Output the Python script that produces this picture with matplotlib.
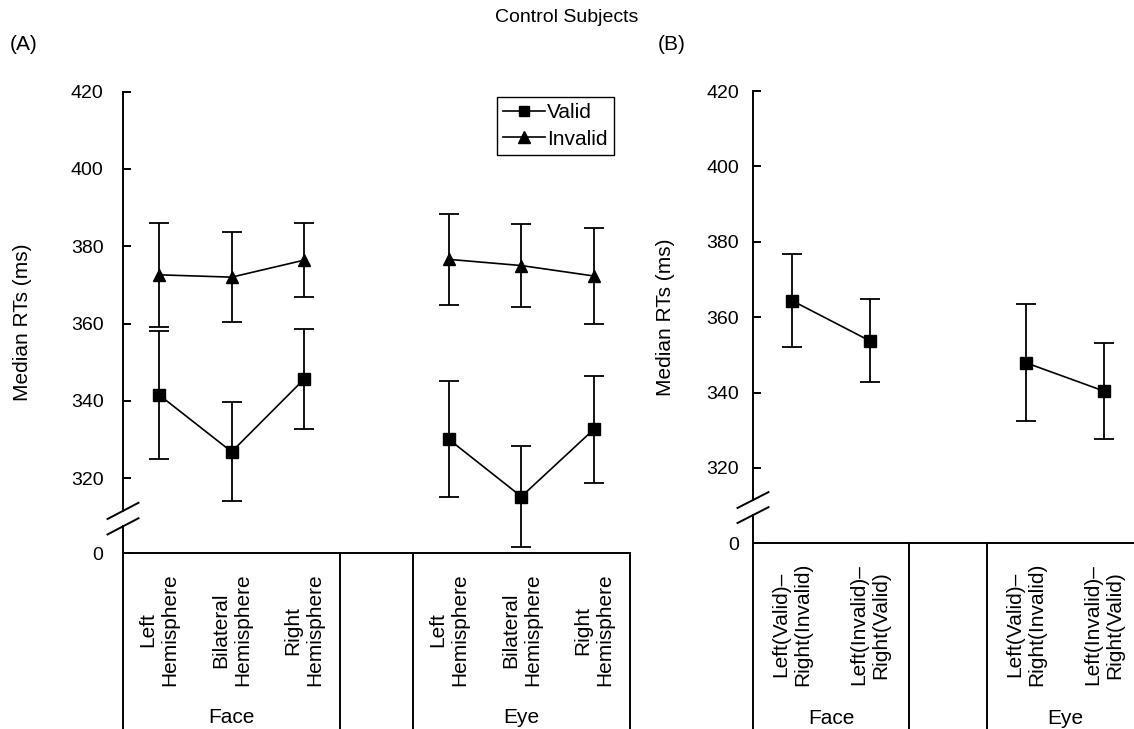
import matplotlib
matplotlib.use('Agg')
import matplotlib.pyplot as plt
from matplotlib.lines import Line2D

plt.rcParams['font.family'] = ['Liberation Sans', 'DejaVu Sans']

# Panel A data (median RT, half error bar)
cond_labels = ['Left\nHemisphere', 'Bilateral\nHemisphere', 'Right\nHemisphere']
face_valid = [341.5, 326.8, 345.6]
face_valid_err = [16.5, 12.8, 13.0]
face_invalid = [372.6, 372.0, 376.4]
face_invalid_err = [13.5, 11.7, 9.5]
eye_valid = [330.0, 315.2, 332.6]
eye_valid_err = [15.0, 13.0, 13.9]
eye_invalid = [376.6, 375.0, 372.3]
eye_invalid_err = [11.7, 10.8, 12.5]

# Panel B data
diff_labels = ['Left(Valid)\u2013\nRight(Invalid)', 'Left(Invalid)\u2013\nRight(Valid)']
face_diff = [364.4, 353.7]
face_diff_err = [12.3, 11.0]
eye_diff = [347.9, 340.4]
eye_diff_err = [15.5, 12.8]

groups = ['Face', 'Eye']
yticks = [320, 340, 360, 380, 400, 420]

fig = plt.figure(figsize=(11.34, 7.29), dpi=100)
fig.text(0.5, 1 - 18 / 729, 'Control Subjects', ha='center', va='center', fontsize=14)
fig.text(24 / 1134, 1 - 44 / 729, '(A)', ha='center', va='center', fontsize=15)
fig.text(672 / 1134, 1 - 44 / 729, '(B)', ha='center', va='center', fontsize=15)

LW = 1.4


def setup_axis(ax, ybot, nx, dividers, group_x, label_y, group_y, xlabels, xpos, pad):
    ax.set_xlim(0, nx)
    ax.set_ylim(ybot, 420)
    for s in ['top', 'right', 'left']:
        ax.spines[s].set_visible(False)
    ax.spines['bottom'].set_linewidth(LW)
    ax.set_xticks([])
    ax.set_yticks([ybot] + yticks)
    ax.set_yticklabels(['0'] + [str(t) for t in yticks])
    ax.tick_params(axis='y', direction='in', length=6, width=LW, pad=pad, labelsize=14)
    ax.set_ylabel('Median RTs (ms)', fontsize=15)

    # broken y axis
    b_hi, b_lo = 311.5, 307.5
    ax.plot([0, 0], [b_hi, 420], color='black', lw=LW, clip_on=False)
    ax.plot([0, 0], [ybot - 60, b_lo], color='black', lw=LW, clip_on=False)
    dx = 15.5 / (ax.get_window_extent().width)
    for yb in (b_hi, b_lo):
        ax.plot([-dx, dx], [yb - 2.1, yb + 2.1], color='black', lw=LW,
                transform=ax.get_yaxis_transform(), clip_on=False)

    # category table below the axis
    for d in dividers:
        ax.plot([d, d], [ybot, ybot - 60], color='black', lw=LW, clip_on=False)
    for x, lab in zip(xpos, xlabels):
        ax.text(x, label_y, lab, rotation=90, ha='center', va='center',
                ma='center', fontsize=15, linespacing=1.2,
                transform=ax.get_xaxis_transform())
    for x, g in zip(group_x, groups):
        ax.text(x, group_y, g, ha='center', va='center', fontsize=15,
                transform=ax.get_xaxis_transform())


def series(ax, x, y, err, marker, ms):
    ax.errorbar(x, y, yerr=err, color='black', marker=marker, ms=ms, lw=1.2,
                elinewidth=1.3, capsize=7, capthick=1.3, clip_on=False)


# Panel A
axA = fig.add_axes([123 / 1134, 1 - 553 / 729, 507 / 1134, 461.3 / 729])
xa_face = [0.5, 1.5, 2.5]
xa_eye = [4.5, 5.5, 6.5]
series(axA, xa_face, face_valid, face_valid_err, 's', 8)
series(axA, xa_face, face_invalid, face_invalid_err, '^', 9)
series(axA, xa_eye, eye_valid, eye_valid_err, 's', 8)
series(axA, xa_eye, eye_invalid, eye_invalid_err, '^', 9)
setup_axis(axA, 300.6, 7, [3, 4, 7], [1.5, 5.5], -0.167, -0.356,
           cond_labels * 2, xa_face + xa_eye, 14)
axA.yaxis.set_label_coords(-0.18, 0.5)
handles = [Line2D([], [], color='black', lw=1.2, marker='s', ms=7),
           Line2D([], [], color='black', lw=1.2, marker='^', ms=8)]
leg = axA.legend(handles, ['Valid', 'Invalid'], loc='upper left',
                 bbox_to_anchor=(497 / 1134, 1 - 97 / 729),
                 bbox_transform=fig.transFigure, fontsize=15, handlelength=2.0,
                 handletextpad=0.1, borderpad=0.3, labelspacing=0.35,
                 borderaxespad=0, fancybox=False, edgecolor='black', framealpha=1)
leg.get_frame().set_linewidth(1.0)

# Panel B
axB = fig.add_axes([753 / 1134, 1 - 543 / 729, 390 / 1134, 452 / 729])
xb_face = [0.5, 1.5]
xb_eye = [3.5, 4.5]
series(axB, xb_face, face_diff, face_diff_err, 's', 8)
series(axB, xb_eye, eye_diff, eye_diff_err, 's', 8)
setup_axis(axB, 300.1, 5, [2, 3, 5], [1.0, 4.0], -0.181, -0.389,
           diff_labels * 2, xb_face + xb_eye, 10)
axB.yaxis.set_label_coords(-0.2, 0.5)

fig.savefig('out.png', dpi=100)
